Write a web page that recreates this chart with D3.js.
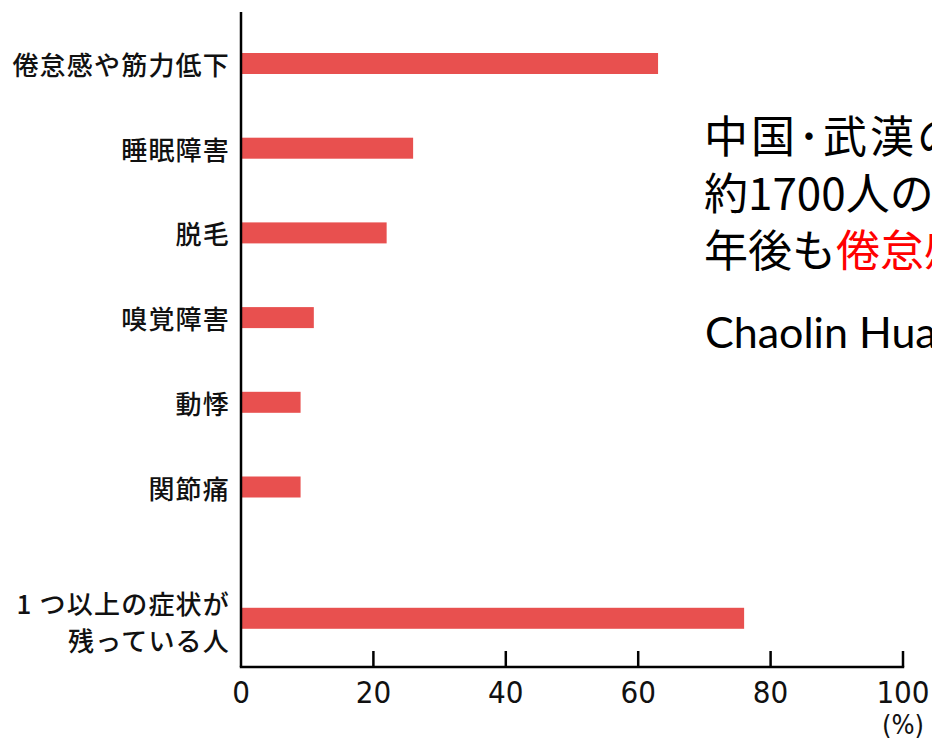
<!DOCTYPE html>
<html><head><meta charset="utf-8">
<script src="https://cdn.jsdelivr.net/npm/d3@7"></script>
<style>
html,body{margin:0;padding:0;background:#fff;overflow:hidden;}
svg{display:block;}
</style></head>
<body>
<script>
const categories = ["倦怠感や筋力低下","睡眠障害","脱毛","嗅覚障害","動悸","関節痛","1 つ以上の症状が\n残っている人"];
const values = [63, 26, 22, 11, 9, 9, 76];
const xTicks = [0, 20, 40, 60, 80, 100];
const unitLabel = "(%)";
const noteLines = [
  [{t:"中国･武漢の", red:false}],
  [{t:"約1700人の", red:false}],
  [{t:"年後も", red:false},{t:"倦怠感", red:true}]
];
const citation = "Chaolin Huang";

const W = 932, H = 741;
const svg = d3.select("body").append("svg").attr("width", W).attr("height", H);

const x = d3.scaleLinear().domain([0, 100]).range([241, 903]);
const GAP = 0.55;
const slot = i => i < 6 ? i : i + GAP;
const y = d3.scaleLinear().domain([0, 5]).range([63.5, 487]);
const barH = 21;

// bars
svg.append("g").selectAll("rect").data(values).join("rect")
  .attr("x", x(0))
  .attr("y", (d, i) => y(slot(i)) - barH / 2)
  .attr("width", d => x(d) - x(0))
  .attr("height", barH)
  .attr("fill", "#e8504f");

// category labels
const lab = svg.append("g")
  .attr("font-family", "'Noto Sans CJK JP', sans-serif")
  .attr("font-size", 26).attr("font-weight", 500)
  .attr("letter-spacing", 1.2)
  .attr("fill", "#111").attr("text-anchor", "end");
categories.forEach((c, i) => {
  const lines = c.split("\n");
  const cy = y(slot(i));
  const lh = 37;
  lines.forEach((ln, k) => {
    lab.append("text")
      .attr("x", 230)
      .attr("y", cy + (k - (lines.length - 1) / 2) * lh + (lines.length > 1 ? 3 : 0))
      .attr("dominant-baseline", "central")
      .text(ln);
  });
});

// axes
const axisG = svg.append("g").attr("stroke", "#000").attr("stroke-width", 2.5).attr("fill", "none");
axisG.append("line").attr("x1", x(0)).attr("x2", x(0)).attr("y1", 12).attr("y2", 667);
axisG.append("line").attr("x1", x(0) - 1.2).attr("x2", x(100) + 1.2).attr("y1", 667).attr("y2", 667);
axisG.selectAll("line.tick").data(xTicks.filter(t => t > 0)).join("line")
  .attr("class", "tick")
  .attr("x1", d => x(d)).attr("x2", d => x(d))
  .attr("y1", 651).attr("y2", 667);

const tl = svg.append("g")
  .attr("font-family", "'Liberation Sans Narrow','DejaVu Sans Condensed','Liberation Sans',sans-serif")
  .attr("font-size", 31).attr("fill", "#111").attr("text-anchor", "middle");
tl.selectAll("text").data(xTicks).join("text")
  .attr("x", d => x(d)).attr("y", 703)
  .text(d => d);
tl.append("text").attr("x", x(100)).attr("y", 734).attr("font-size", 27).text(unitLabel);

// note text
const note = svg.append("g")
  .attr("font-family", "'Noto Sans CJK JP', sans-serif")
  .attr("font-size", 44).attr("fill", "#000");
noteLines.forEach((line, k) => {
  const t = note.append("text").attr("x", 704).attr("y", 153 + k * 57)
    .attr("letter-spacing", k === 0 ? 3 : 0);
  line.forEach(seg => t.append("tspan").attr("fill", seg.red ? "#ff0000" : "#000").text(seg.t));
});
svg.append("text").attr("x", 705).attr("y", 348)
  .attr("font-family", "Lato, sans-serif").attr("font-size", 43).attr("fill", "#000")
  .text(citation);
</script>
</body></html>
